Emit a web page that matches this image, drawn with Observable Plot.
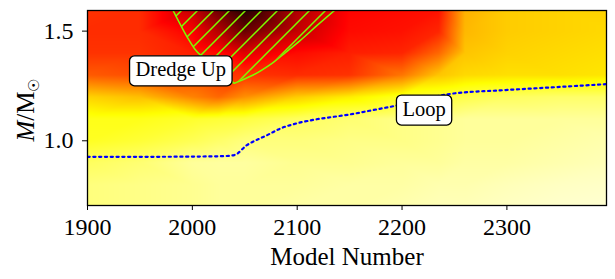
<!DOCTYPE html>
<html>
<head>
<meta charset="utf-8">
<script src="https://cdn.jsdelivr.net/npm/d3@7"></script>
<script src="https://cdn.jsdelivr.net/npm/@observablehq/plot@0.6"></script>
<style>
  html, body { margin: 0; padding: 0; background: white; }
  svg text, svg tspan { font-family: "Liberation Serif", "DejaVu Serif", serif !important; }
</style>
</head>
<body>
<div id="chart"></div>
<script>
// ---- data ----
const models = [1900, 1950, 2000, 2025, 2050, 2100, 2150, 2200, 2235, 2260, 2300, 2350, 2400];
const masses = [1.60, 1.50, 1.40, 1.30, 1.20, 1.10, 1.00, 0.90, 0.80, 0.70];
const intensity = [
  [0.56, 0.57, 0.72, 0.85, 0.95, 0.75, 0.63, 0.62, 0.61, 0.37, 0.33, 0.32, 0.32],
  [0.57, 0.57, 0.64, 0.74, 0.85, 0.72, 0.62, 0.61, 0.58, 0.36, 0.33, 0.32, 0.31],
  [0.56, 0.56, 0.59, 0.62, 0.68, 0.62, 0.59, 0.58, 0.48, 0.34, 0.32, 0.31, 0.30],
  [0.50, 0.52, 0.53, 0.55, 0.56, 0.57, 0.56, 0.46, 0.34, 0.31, 0.30, 0.30, 0.29],
  [0.32, 0.35, 0.44, 0.48, 0.42, 0.33, 0.28, 0.22, 0.20, 0.18, 0.16, 0.15, 0.15],
  [0.23, 0.23, 0.21, 0.20, 0.19, 0.16, 0.14, 0.12, 0.11, 0.10, 0.10, 0.10, 0.10],
  [0.22, 0.20, 0.17, 0.15, 0.13, 0.13, 0.12, 0.12, 0.11, 0.10, 0.10, 0.09, 0.08],
  [0.16, 0.14, 0.10, 0.095, 0.095, 0.11, 0.11, 0.10, 0.10, 0.09, 0.09, 0.08, 0.07],
  [0.13, 0.12, 0.11, 0.10, 0.10, 0.10, 0.09, 0.09, 0.08, 0.08, 0.07, 0.06, 0.055],
  [0.13, 0.12, 0.11, 0.10, 0.10, 0.09, 0.09, 0.08, 0.07, 0.07, 0.06, 0.05, 0.045]
];

// dredge-up (hatched) region: left and right edges at given masses
const dredgeMass  = [1.262, 1.300, 1.353, 1.403, 1.458, 1.526, 1.600];
const dredgeLeft  = [2040, 2031, 2018, 2005, 1997, 1989, 1981];
const dredgeRight = [2040, 2058, 2076, 2089, 2103, 2119, 2137];

// blue dotted "loop" track
const loopModel = [1900, 1950, 2000, 2030, 2040, 2052, 2071, 2084, 2100, 2115, 2150, 2180, 2189, 2220, 2248, 2294, 2341, 2394];
const loopMass  = [0.927, 0.927, 0.928, 0.930, 0.935, 0.980, 1.025, 1.056, 1.080, 1.095, 1.120, 1.147, 1.155, 1.190, 1.215, 1.230, 1.243, 1.258];

const labelText  = ["Dredge Up", "Loop"];
const labelModel = [1989, 2221];
const labelMass  = [1.324, 1.145];

const xTicks = [1900, 2000, 2100, 2200, 2300];
const yTicks = [1.0, 1.5];

// ---- build tables ----
const grid = [];
masses.forEach((m, i) => models.forEach((x, j) => grid.push({x, m, v: intensity[i][j]})));
const dredge = dredgeMass.map((m, i) => ({m, x1: dredgeLeft[i], x2: dredgeRight[i]}));
const loop = loopModel.map((x, i) => ({x, m: loopMass[i]}));
const labels = labelText.map((t, i) => ({t, x: labelModel[i], m: labelMass[i]}));

const green = "#7cfc00";
const serif = "Liberation Serif";

const chart = Plot.plot({
  width: 615,
  height: 279,
  marginLeft: 87,
  marginRight: 9,
  marginTop: 10,
  marginBottom: 74,
  style: {fontSize: "24px", color: "black", background: "white", fontFamily: serif},
  x: {domain: [1900, 2395]},
  y: {domain: [0.705, 1.594]},
  color: {
    type: "linear",
    domain: [0, 0.254, 0.635, 1],
    range: ["#ffffff", "#ffff00", "#ff0000", "#000000"]
  },
  marks: [
    Plot.raster(grid, {x: "x", y: "m", fill: "v", interpolate: "barycentric"}),
    Plot.areaX(dredge, {y: "m", x1: "x1", x2: "x2", fill: "url(#hatch)", clip: true}),
    Plot.line(dredge, {x: "x1", y: "m", stroke: green, strokeWidth: 1.5, curve: "monotone-y", clip: true}),
    Plot.line(dredge, {x: "x2", y: "m", stroke: green, strokeWidth: 1.5, curve: "monotone-y", clip: true}),
    Plot.line(loop, {x: "x", y: "m", stroke: "#0000ff", strokeWidth: 2.2, strokeDasharray: "2.2,3.6", curve: "monotone-x", clip: true}),
    Plot.text(labels, {x: "x", y: "m", text: "t", fontSize: 20.5, fill: "black", fontFamily: serif}),
    Plot.frame({stroke: "black", strokeWidth: 1.3}),
    Plot.axisX({ticks: xTicks, tickFormat: d => String(d), tickSize: 5, tickPadding: 7, label: null, fontSize: 24, fontFamily: serif}),
    Plot.axisY({ticks: yTicks, tickFormat: d3.format(".1f"), tickSize: 5, tickPadding: 9, label: null, fontSize: 24, fontFamily: serif}),
    Plot.text(["Model Number"], {frameAnchor: "bottom", dy: 59, lineAnchor: "bottom", textAnchor: "middle", fontSize: 25, fill: "black", fontFamily: serif}),
    Plot.text(["M/M☉"], {frameAnchor: "left", dx: -62, dy: 2, rotate: -90, textAnchor: "middle", lineAnchor: "middle", fontSize: 25, fill: "black", fontFamily: serif})
  ]
});

document.getElementById("chart").appendChild(chart);

// hatch pattern definition
const ns = "http://www.w3.org/2000/svg";
const defs = document.createElementNS(ns, "defs");
defs.innerHTML = `<pattern id="hatch" patternUnits="userSpaceOnUse" width="16" height="16">
  <path d="M-4,4 L4,-4 M0,16 L16,0 M12,20 L20,12" stroke="${green}" stroke-width="1.5" fill="none"/>
</pattern>`;
chart.insertBefore(defs, chart.firstChild);

// rounded label boxes and rich y-axis label
chart.querySelectorAll("text").forEach(t => {
  const s = t.textContent;
  if (labelText.includes(s)) {
    const b = t.getBBox();
    const r = document.createElementNS(ns, "rect");
    const padX = 6, h = 30, cy = b.y + b.height / 2 + 1;
    r.setAttribute("x", b.x - padX);
    r.setAttribute("y", cy - h / 2);
    r.setAttribute("width", b.width + 2 * padX);
    r.setAttribute("height", h);
    r.setAttribute("rx", 5);
    r.setAttribute("fill", "white");
    r.setAttribute("stroke", "black");
    r.setAttribute("stroke-width", 1.3);
    if (t.getAttribute("transform")) r.setAttribute("transform", t.getAttribute("transform"));
    t.parentNode.insertBefore(r, t);
  } else if (s === "M/M☉") {
    t.textContent = "";
    t.innerHTML = `<tspan font-style="italic">M</tspan><tspan>/M</tspan><tspan font-size="15" dy="5">☉</tspan>`;
  }
});
</script>
</body>
</html>
